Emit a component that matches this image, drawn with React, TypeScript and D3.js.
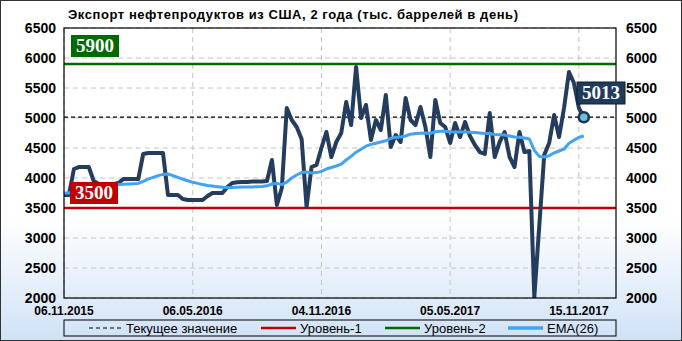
import React from 'react';
import * as d3 from 'd3';

const title = 'Экспорт нефтепродуктов из США, 2 года (тыс. баррелей в день)';

// weekly exports, thousand barrels per day
const exportValues = [
  3717, 3717, 4150, 4183, 4183, 4183, 3950, 3900, 3900, 3900,
  3900, 3917, 3983, 3983, 3983, 3983, 4400, 4417, 4417, 4417,
  4417, 3717, 3717, 3717, 3650, 3633, 3633, 3633, 3633, 3700,
  3750, 3750, 3750, 3850, 3917, 3930, 3933, 3933, 3940, 3940,
  3940, 3950, 4300, 3550, 3833, 5167, 4967, 4850, 4650, 3517,
  4183, 4217, 4500, 4767, 4350, 4600, 4750, 5267, 4883, 5850,
  5000, 5217, 4633, 4967, 4800, 5383, 4517, 4717, 4600, 5333,
  4967, 4883, 5183, 4850, 4350, 5300, 4917, 4850, 4583, 4917,
  4683, 4933, 4700, 4550, 4433, 4400, 5083, 4350, 4600, 4767,
  4350, 4183, 4767, 4433, 4450, 2017, 3200, 4383, 4583, 5050,
  4683, 5167, 5767, 5583, 5167, 5013,
];

// EMA(26) curve
const emaValues = [
  3750, 3750, 3780, 3810, 3840, 3860, 3870, 3875, 3880, 3880,
  3885, 3890, 3895, 3900, 3905, 3910, 3945, 3980, 4010, 4040,
  4060, 4067, 4040, 4010, 3980, 3955, 3930, 3910, 3890, 3875,
  3865, 3855, 3845, 3840, 3840, 3845, 3848, 3850, 3852, 3855,
  3858, 3870, 3900, 3910, 3890, 3930, 4000, 4050, 4090, 4100,
  4085, 4090, 4110, 4150, 4175, 4200, 4230, 4300, 4360, 4430,
  4480, 4530, 4560, 4580, 4600, 4620, 4660, 4680, 4683, 4700,
  4730, 4740, 4745, 4750, 4745, 4770, 4780, 4780, 4770, 4768,
  4767, 4767, 4762, 4758, 4750, 4740, 4740, 4725, 4720, 4715,
  4700, 4683, 4680, 4665, 4650, 4460, 4360, 4350, 4370, 4420,
  4450, 4480, 4580, 4630, 4680, 4700,
];

const xTickIndex = [0, 26, 52, 78, 104];
const xTickLabels = ['06.11.2015', '06.05.2016', '04.11.2016', '05.05.2017', '15.11.2017'];
const yTicks = [2000, 2500, 3000, 3500, 4000, 4500, 5000, 5500, 6000, 6500];
const level1 = 3500;
const level2 = 5900;
const currentValue = 5013;
const legendLabels = ['Текущее значение', 'Уровень-1', 'Уровень-2', 'EMA(26)'];

const W = 682;
const H = 341;
const PL = 64, PR = 616, PT = 28, PB = 298;

const C_DARK = '#243d5f';
const C_EMA = '#41a2f6';
const C_RED = '#c00000';
const C_GREEN = '#006a00';
const SANS = '"Liberation Sans", Arial, sans-serif';
const SERIF = '"Liberation Serif", "Times New Roman", serif';

export default function App() {
  const x = d3.scaleLinear().domain([0, 111.5]).range([PL, PR]);
  const y = d3.scaleLinear().domain([2000, 6500]).range([PB, PT]);
  const line = d3.line<number>().x((_, i) => x(i)).y((d) => y(d));

  const lastI = exportValues.length - 1;
  const lastX = x(lastI);
  const lastY = y(exportValues[lastI]);

  const legendItems = [
    { label: legendLabels[0], x0: 89, x1: 122, color: '#000', w: 1, dash: '4,3' },
    { label: legendLabels[1], x0: 261, x1: 296, color: C_RED, w: 2.5, dash: undefined },
    { label: legendLabels[2], x0: 385, x1: 420, color: C_GREEN, w: 2.5, dash: undefined },
    { label: legendLabels[3], x0: 508, x1: 543, color: C_EMA, w: 3.5, dash: undefined },
  ];

  return (
    <svg width={W} height={H} style={{ position: 'absolute', left: 0, top: 0 }}>
      <defs>
        <linearGradient id="bg" x1="0" y1="0" x2="0" y2="1">
          <stop offset="0%" stopColor="#ffffff" />
          <stop offset="64%" stopColor="#ffffff" />
          <stop offset="100%" stopColor="#d0e2f7" />
        </linearGradient>
        <clipPath id="plotClip">
          <rect x={PL} y={PT} width={PR - PL} height={PB - PT} />
        </clipPath>
      </defs>
      <rect x={0.5} y={0.5} width={W - 1} height={H - 1} fill="url(#bg)" stroke="#333" strokeWidth={1} />

      {/* grid */}
      {yTicks.map((t) => (
        <line key={'gy' + t} x1={PL} x2={PR} y1={y(t)} y2={y(t)} stroke="#c4c4c4" strokeWidth={1} strokeDasharray="5,4" />
      ))}
      {xTickIndex.map((t) => (
        <line key={'gx' + t} x1={x(t)} x2={x(t)} y1={PT} y2={PB} stroke="#c4c4c4" strokeWidth={1} strokeDasharray="5,4" />
      ))}

      {/* current value line */}
      <line x1={PL} x2={PR} y1={y(currentValue)} y2={y(currentValue)} stroke="#000" strokeWidth={1.2} strokeDasharray="4,3" />

      {/* levels */}
      <line x1={PL} x2={PR} y1={y(level2)} y2={y(level2)} stroke={C_GREEN} strokeWidth={2.5} />
      <line x1={PL} x2={PR} y1={y(level1)} y2={y(level1)} stroke={C_RED} strokeWidth={2.5} />

      <g clipPath="url(#plotClip)">
        <path d={line(exportValues) || ''} fill="none" stroke={C_DARK} strokeWidth={4} strokeLinejoin="round" />
        <path d={line(emaValues) || ''} fill="none" stroke={C_EMA} strokeWidth={3} strokeLinejoin="round" />
      </g>

      {/* plot frame */}
      <rect x={PL} y={PT} width={PR - PL} height={PB - PT} fill="none" stroke="#000" strokeWidth={1.2} />

      {/* level labels */}
      <rect x={71} y={35} width={48} height={22} fill={C_GREEN} />
      <text x={95} y={52} textAnchor="middle" fill="#fff" fontFamily={SERIF} fontWeight="bold" fontSize={19}>{level2}</text>
      <rect x={70} y={182} width={48} height={22} fill={C_RED} />
      <text x={94} y={199} textAnchor="middle" fill="#fff" fontFamily={SERIF} fontWeight="bold" fontSize={19}>{level1}</text>

      {/* last point */}
      <circle cx={lastX} cy={lastY} r={5} fill="#6cc0d6" stroke="#1b3456" strokeWidth={2.5} />
      <rect x={577} y={82} width={48} height={22} fill="#1f3a5d" stroke="#0f2036" strokeWidth={1} />
      <text x={601} y={99} textAnchor="middle" fill="#fff" fontFamily={SERIF} fontWeight="bold" fontSize={19}>{currentValue}</text>

      {/* y tick labels */}
      {yTicks.map((t) => (
        <g key={'yl' + t}>
          <text x={PL - 8} y={y(t)} dy="0.35em" textAnchor="end" fontFamily={SANS} fontWeight="bold" fontSize={14} fill="#000">{t}</text>
          <text x={PR + 10} y={y(t)} dy="0.35em" textAnchor="start" fontFamily={SANS} fontWeight="bold" fontSize={14} fill="#000">{t}</text>
        </g>
      ))}

      {/* x tick labels */}
      {xTickIndex.map((t, i) => (
        <text key={'xl' + t} x={x(t)} y={315} textAnchor="middle" fontFamily={SANS} fontWeight="bold" fontSize={12} fill="#000">{xTickLabels[i]}</text>
      ))}

      {/* title */}
      <text x={68} y={19} fontFamily={SANS} fontWeight="bold" fontSize={13} textLength={450} lengthAdjust="spacing" fill="#000">{title}</text>

      {/* legend */}
      <rect x={PL} y={320} width={PR - PL} height={16} fill="none" stroke="#000" strokeWidth={1} />
      {legendItems.map((it) => (
        <g key={it.label}>
          <line x1={it.x0} x2={it.x1} y1={328} y2={328} stroke={it.color} strokeWidth={it.w} strokeDasharray={it.dash} />
          <text x={it.x1 + 4} y={332.5} fontFamily={SANS} fontSize={13} fill="#000">{it.label}</text>
        </g>
      ))}
    </svg>
  );
}
